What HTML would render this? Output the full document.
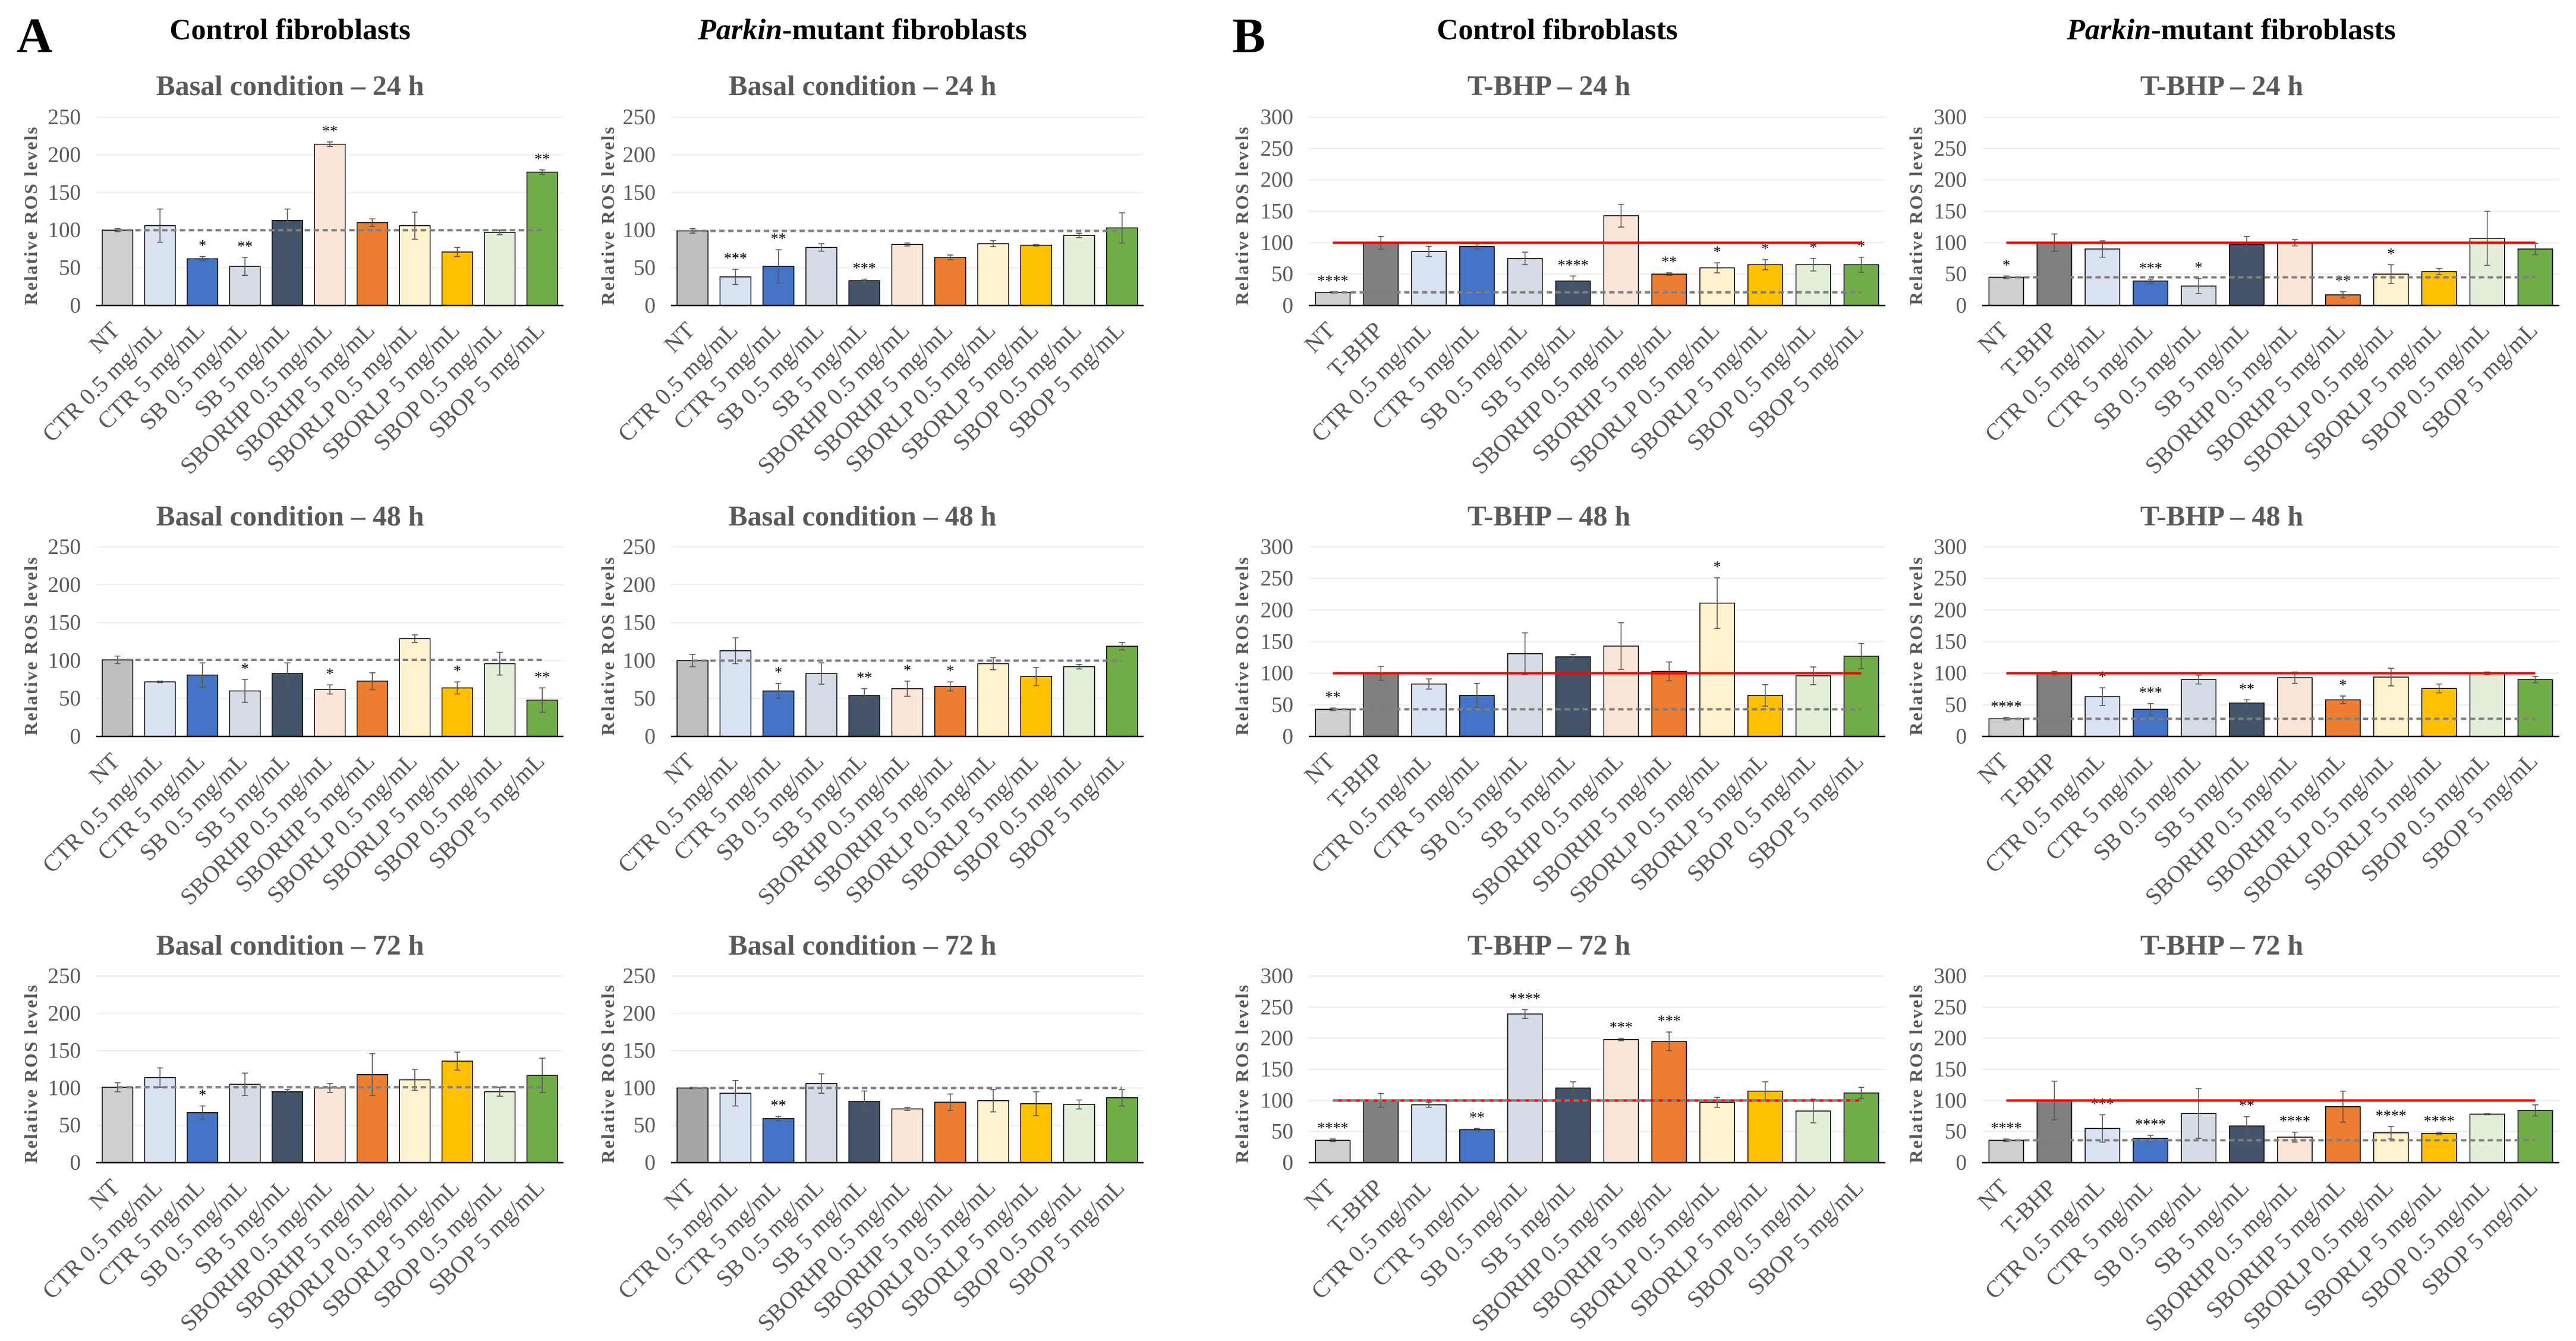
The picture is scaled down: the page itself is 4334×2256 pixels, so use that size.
<!DOCTYPE html>
<html><head><meta charset="utf-8"><style>
html,body{margin:0;padding:0;background:#fff}
svg{display:block}
text{font-family:"Liberation Serif",serif}
</style></head><body>
<svg id="fig" xmlns="http://www.w3.org/2000/svg" width="4334" height="2256" viewBox="0 0 4334 2256">
<rect width="4334" height="2256" fill="#fff"/>
<text x="28" y="88" font-size="84" font-weight="bold">A</text>
<text x="2073" y="88" font-size="84" font-weight="bold">B</text>
<text x="488" y="66" font-size="50" font-weight="bold" text-anchor="middle">Control fibroblasts</text>
<text x="1451" y="66" font-size="50" font-weight="bold" text-anchor="middle"><tspan font-style="italic">Parkin</tspan>-mutant fibroblasts</text>
<text x="2620" y="66" font-size="50" font-weight="bold" text-anchor="middle">Control fibroblasts</text>
<text x="3754" y="66" font-size="50" font-weight="bold" text-anchor="middle"><tspan font-style="italic">Parkin</tspan>-mutant fibroblasts</text>
</svg>
<script>
const catsA = ["NT","CTR 0.5 mg/mL","CTR 5 mg/mL","SB 0.5 mg/mL","SB 5 mg/mL","SBORHP 0.5 mg/mL","SBORHP 5 mg/mL","SBORLP 0.5 mg/mL","SBORLP 5 mg/mL","SBOP 0.5 mg/mL","SBOP 5 mg/mL"];
const catsB = ["NT","T-BHP","CTR 0.5 mg/mL","CTR 5 mg/mL","SB 0.5 mg/mL","SB 5 mg/mL","SBORHP 0.5 mg/mL","SBORHP 5 mg/mL","SBORLP 0.5 mg/mL","SBORLP 5 mg/mL","SBOP 0.5 mg/mL","SBOP 5 mg/mL"];
const ticksA = [0,50,100,150,200,250];
const ticksB = [0,50,100,150,200,250,300];

// Panel A, control, 24/48/72 h
const valsA1r1 = [100,106,62,52,113,214,110,106,71,97,177];
const errsA1r1 = [2,22,3,12,15,3,5,18,6,3,3];
const sigsA1r1 = ["","","*","**","","**","","","","","**"];
const valsA1r2 = [101,72,81,60,83,62,73,129,64,96,48];
const errsA1r2 = [5,1,16,15,14,6,11,5,8,15,16];
const sigsA1r2 = ["","","","*","","*","","","*","","**"];
const valsA1r3 = [101,114,67,105,95,100,118,111,136,95,117];
const errsA1r3 = [6,13,9,15,3,6,28,14,12,6,23];
const sigsA1r3 = ["","","*","","","","","","","",""];
// Panel A, Parkin
const valsA2r1 = [99,38,52,77,33,81,64,82,80,93,103];
const errsA2r1 = [3,10,22,5,2,2,3,4,1,3,20];
const sigsA2r1 = ["","***","**","","***","","","","","",""];
const valsA2r2 = [100,113,60,83,54,63,66,96,79,92,119];
const errsA2r2 = [8,17,10,14,9,10,6,8,12,3,5];
const sigsA2r2 = ["","","*","","**","*","*","","","",""];
const valsA2r3 = [100,93,59,106,82,72,81,83,79,78,87];
const errsA2r3 = [1,17,3,13,14,2,11,15,16,6,11];
const sigsA2r3 = ["","","**","","","","","","","",""];
// Panel B, control
const valsB1r1 = [21,100,86,94,75,39,143,50,60,65,65,65];
const errsB1r1 = [1,10,8,4,10,8,18,2,8,8,10,12];
const sigsB1r1 = ["****","","","","","****","","**","*","*","*","*"];
const valsB1r2 = [43,100,83,65,131,126,143,103,211,65,96,127];
const errsB1r2 = [2,11,8,19,33,4,37,15,40,17,14,20];
const sigsB1r2 = ["**","","","","","","","","*","","",""];
const valsB1r3 = [36,100,93,53,239,120,198,195,97,115,83,112];
const errsB1r3 = [2,11,4,2,7,10,2,15,8,15,19,9];
const sigsB1r3 = ["****","","","**","****","","***","***","","","",""];
// Panel B, Parkin
const valsB2r1 = [45,100,90,39,31,97,100,17,50,54,107,90];
const errsB2r1 = [2,14,13,3,12,13,5,5,15,5,43,9];
const sigsB2r1 = ["*","","","***","*","","","**","*","","",""];
const valsB2r2 = [28,100,63,43,90,53,93,58,94,76,100,90];
const errsB2r2 = [2,3,14,9,7,5,9,6,14,7,2,5];
const sigsB2r2 = ["****","","*","***","","**","","*","","","",""];
const valsB2r3 = [36,100,55,39,79,59,41,90,48,47,78,84];
const errsB2r3 = [2,31,22,5,40,15,8,25,10,2,1,9];
const sigsB2r3 = ["****","","***","****","","**","****","","****","****","",""];

const titlesA = ["Basal condition – 24 h","Basal condition – 48 h","Basal condition – 72 h"];
const titlesB = ["T-BHP – 24 h","T-BHP – 48 h","T-BHP – 72 h"];

const colA = ["#D0CECE","#DAE3F3","#4472C4","#D6DCE5","#44546A","#FBE5D6","#ED7D31","#FFF2CC","#FFC000","#E2F0D9","#70AD47"];
const colB = ["#D0CECE","#7F7F7F","#DAE3F3","#4472C4","#D6DCE5","#44546A","#FBE5D6","#ED7D31","#FFF2CC","#FFC000","#E2F0D9","#70AD47"];

const NS="http://www.w3.org/2000/svg";
const svg=document.getElementById('fig');
function mk(tag,attrs,parent){const e=document.createElementNS(NS,tag);for(const k in attrs)e.setAttribute(k,attrs[k]);(parent||svg).appendChild(e);return e;}

const rowsY=[{top:197,bot:514,title:160},{top:920,bot:1239,title:884},{top:1642,bot:1956,title:1606}];
const colsX={A1:{x0:162,x1:948,yl:52,tc:488},A2:{x0:1129,x1:1924,yl:1023,tc:1451},B1:{x0:2202,x1:3172,yl:2090,tc:2606},B2:{x0:3335,x1:4306,yl:3224,tc:3738}};

function panel(name,col,row,cats,vals,errs,sigs,ticks,title,isB,nt,dashLevel){
  const c=colsX[col], r=rowsY[row];
  const g=mk('g',{});
  
  
  const max=ticks[ticks.length-1];
  const y=v=>r.bot-(v/max)*(r.bot-r.top);
  const n=cats.length, slot=(c.x1-c.x0)/n, bw=slot*0.72;
  const xc=i=>c.x0+slot*(i+0.5);
  const t=mk('text',{x:c.tc,y:r.title,'font-size':48,'font-weight':'bold','text-anchor':'middle',fill:'#595959'},g);
  t.textContent=title;
  
  
  ticks.forEach(tv=>{
    if(tv>0){const gl=mk('line',{x1:c.x0,x2:c.x1,y1:y(tv),y2:y(tv),stroke:'#EDEDED','stroke-width':2},g);
      
      }
    const tl=mk('text',{x:c.x0-26,y:y(tv)+12,'font-size':37,'text-anchor':'end',fill:'#595959'},g);
    tl.textContent=tv;
    
    
  });
  const yt=mk('text',{transform:`translate(${c.yl+10},${(r.top+r.bot)/2+8}) rotate(-90)`,'font-size':31,'font-weight':'bold','text-anchor':'middle',fill:'#595959',textLength:300,lengthAdjust:'spacing'},g);
  yt.textContent='Relative ROS levels';
  
  
  vals.forEach((v,i)=>{
    const fill=(i===0)?nt:(isB?colB[i]:colA[i]);
    const b=mk('rect',{x:xc(i)-bw/2,y:y(v),width:bw,height:r.bot-y(v),fill:fill,stroke:'#000','stroke-width':1.5},g);
    
    
    const e=errs[i], cx=xc(i);
    const eb=mk('path',{d:`M${cx},${y(v+e)}V${y(v-e)}M${cx-5},${y(v+e)}H${cx+5}M${cx-5},${y(v-e)}H${cx+5}`,stroke:'#595959','stroke-width':1.6,fill:'none'},g);
    
    
    if(sigs[i]){
      const s=mk('text',{x:cx,y:y(v+e)-10,'font-size':26,'text-anchor':'middle',fill:'#000'},g);
      s.textContent=sigs[i];
      
      
    }
    const lx=cx+6, ly=r.bot+44;
    const xl=mk('text',{transform:`translate(${lx},${ly}) rotate(-45)`,'font-size':40,'text-anchor':'end',fill:'#595959'},g);
    xl.textContent=cats[i];
    
    
  });
  const ax=mk('line',{x1:c.x0,x2:c.x1,y1:r.bot,y2:r.bot,stroke:'#000','stroke-width':2.5},g);
  
  
  if(isB){
    const rl=mk('line',{x1:xc(0),x2:xc(n-1),y1:y(vals[1]),y2:y(vals[1]),stroke:'#FF0000','stroke-width':4},g);
    
    
  }
  const dl=mk('line',{x1:xc(0),x2:xc(n-1),y1:y(dashLevel),y2:y(dashLevel),stroke:'#7F7F7F','stroke-width':4,'stroke-dasharray':'9 6'},g);
  
  
}

panel('chart-control-basal-24h','A1',0,catsA,valsA1r1,errsA1r1,sigsA1r1,ticksA,titlesA[0],false,'#D0CECE',valsA1r1[0]);
panel('chart-control-basal-48h','A1',1,catsA,valsA1r2,errsA1r2,sigsA1r2,ticksA,titlesA[1],false,'#BFBFBF',valsA1r2[0]);
panel('chart-control-basal-72h','A1',2,catsA,valsA1r3,errsA1r3,sigsA1r3,ticksA,titlesA[2],false,'#D0CECE',valsA1r3[0]);
panel('chart-parkin-basal-24h','A2',0,catsA,valsA2r1,errsA2r1,sigsA2r1,ticksA,titlesA[0],false,'#BFBFBF',valsA2r1[0]);
panel('chart-parkin-basal-48h','A2',1,catsA,valsA2r2,errsA2r2,sigsA2r2,ticksA,titlesA[1],false,'#BFBFBF',valsA2r2[0]);
panel('chart-parkin-basal-72h','A2',2,catsA,valsA2r3,errsA2r3,sigsA2r3,ticksA,titlesA[2],false,'#A6A6A6',valsA2r3[0]);
panel('chart-control-tbhp-24h','B1',0,catsB,valsB1r1,errsB1r1,sigsB1r1,ticksB,titlesB[0],true,'#D0CECE',valsB1r1[0]);
panel('chart-control-tbhp-48h','B1',1,catsB,valsB1r2,errsB1r2,sigsB1r2,ticksB,titlesB[1],true,'#D0CECE',valsB1r2[0]);
panel('chart-control-tbhp-72h','B1',2,catsB,valsB1r3,errsB1r3,sigsB1r3,ticksB,titlesB[2],true,'#D0CECE',valsB1r3[1]);
panel('chart-parkin-tbhp-24h','B2',0,catsB,valsB2r1,errsB2r1,sigsB2r1,ticksB,titlesB[0],true,'#D0CECE',valsB2r1[0]);
panel('chart-parkin-tbhp-48h','B2',1,catsB,valsB2r2,errsB2r2,sigsB2r2,ticksB,titlesB[1],true,'#D0CECE',valsB2r2[0]);
panel('chart-parkin-tbhp-72h','B2',2,catsB,valsB2r3,errsB2r3,sigsB2r3,ticksB,titlesB[2],true,'#D0CECE',valsB2r3[0]);
</script>
</body></html>
